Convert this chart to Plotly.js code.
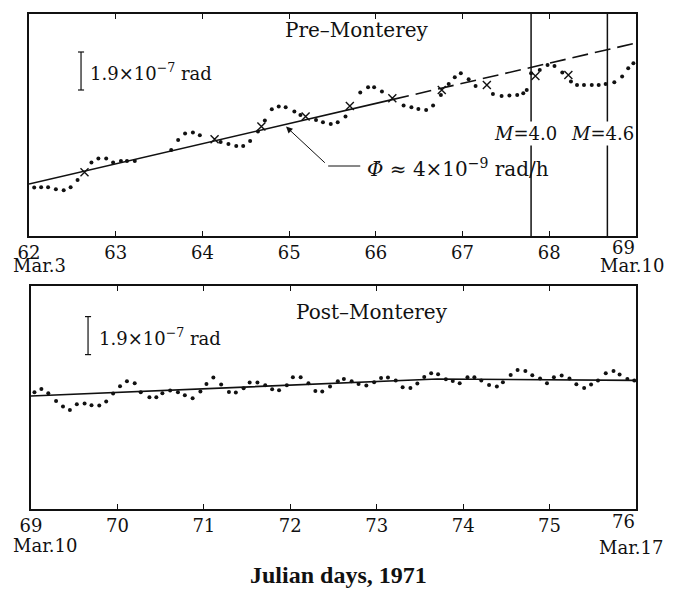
<!DOCTYPE html>
<html>
<head>
<meta charset="utf-8">
<script src="https://cdn.plot.ly/plotly-3.0.1.min.js"></script>
<style>html,body{margin:0;padding:0;background:#fff;}#chart{width:676px;height:591px;}</style>
</head>
<body>
<div id="chart"></div>
<script>
// ---- Pre-Monterey panel (Julian days 62-69), values in units of 1e-7 rad ----
const preDotDays = [62.06,62.14,62.22,62.31,62.40,62.48,62.56,62.72,62.80,62.89,62.97,63.06,63.13,63.22,
  63.64,63.72,63.80,63.89,63.97,64.21,64.30,64.39,64.47,64.55,64.64,64.72,64.80,64.88,64.96,65.06,65.13,
  65.31,65.39,65.48,65.56,65.65,65.82,65.91,65.98,66.07,66.32,66.41,66.49,66.58,66.66,66.75,66.84,66.91,
  66.98,67.07,67.15,67.35,67.45,67.54,67.63,67.70,67.74,67.79,67.89,67.98,68.06,68.15,68.25,68.32,68.40,
  68.49,68.57,68.65,68.75,68.84,68.91,68.97];
const preDotVals = [2.42,2.44,2.44,2.34,2.29,2.44,2.80,3.67,3.87,3.87,3.67,3.75,3.75,3.75,
  4.30,4.80,5.12,5.17,5.04,4.70,4.60,4.50,4.50,4.75,5.22,5.77,6.34,6.47,6.44,6.22,6.05,
  5.80,5.69,5.60,5.69,5.97,7.17,7.44,7.44,7.22,6.52,6.44,6.35,6.30,6.52,7.05,7.60,7.94,
  8.14,7.84,7.50,7.10,7.00,7.02,7.05,7.14,7.30,8.14,8.30,8.55,8.50,8.17,7.72,7.55,7.55,
  7.55,7.55,7.60,7.69,7.97,8.39,8.64];
const preCrossDays = [62.64,64.14,64.68,65.19,65.70,66.19,66.76,67.28,67.84,68.22];
const preCrossVals = [3.19,4.84,5.47,5.97,6.50,6.89,7.30,7.55,8.00,8.05];
const preFitDays = [62.0, 66.2];
const preFitVals = [2.60, 6.83];
const preExtDays = [66.2, 69.0];
const preExtVals = [6.83, 9.65];
const quakeDays = [67.79, 68.67];
const quakeLabels = ['<i>M</i>=4.0', '<i>M</i>=4.6'];

// ---- Post-Monterey panel (Julian days 69-76) ----
const postDotDays = [69.04,69.12,69.20,69.29,69.37,69.45,69.53,69.62,69.70,69.79,69.87,69.95,70.03,70.11,
  70.20,70.27,70.37,70.45,70.52,70.61,70.70,70.78,70.87,70.96,71.03,71.11,71.20,71.29,71.37,71.46,71.53,
  71.62,71.71,71.79,71.87,71.96,72.03,72.12,72.21,72.29,72.37,72.46,72.55,72.62,72.71,72.79,72.88,72.97,
  73.05,73.13,73.22,73.30,73.39,73.47,73.55,73.63,73.71,73.80,73.88,73.96,74.05,74.13,74.21,74.30,74.39,
  74.46,74.55,74.63,74.72,74.80,74.89,74.97,75.05,75.14,75.23,75.31,75.40,75.48,75.56,75.65,75.74,75.81,
  75.90,75.98];
const postDotVals = [5.84,6.00,5.79,5.40,5.12,4.95,5.24,5.27,5.19,5.17,5.37,5.77,6.14,6.39,
  6.29,5.84,5.59,5.59,5.79,5.92,5.84,5.69,5.54,5.87,6.25,6.57,6.22,5.85,5.82,6.04,6.32,
  6.32,6.19,5.99,5.94,6.19,6.59,6.59,6.29,5.90,5.87,6.12,6.39,6.50,6.39,6.25,6.17,6.34,
  6.55,6.57,6.42,6.09,6.05,6.27,6.60,6.79,6.74,6.49,6.40,6.29,6.59,6.59,6.42,6.20,6.12,
  6.34,6.70,6.95,6.90,6.69,6.52,6.29,6.59,6.67,6.52,6.24,6.05,6.22,6.42,6.79,6.90,6.72,
  6.50,6.42];
const postFitDays = [69.0, 73.7, 76.0];
const postFitVals = [5.65, 6.50, 6.43];

// ---- tick labels ----
const preTickVals = [62,63,64,65,66,67,68,69];
const preTickText = ['62','63','64','65','66','67','68',' '];
const postTickVals = [69,70,71,72,73,74,75,76];
const postTickText = ['69','70','71','72','73','74','75',' '];

const scaleBar = 1.9; // 1.9e-7 rad
const serif = 'DejaVu Serif';
const black = '#111';

const traces = [
  {x: preDotDays, y: preDotVals, xaxis:'x', yaxis:'y', mode:'markers', type:'scatter',
   marker:{size:4, color:black}},
  {x: preCrossDays, y: preCrossVals, xaxis:'x', yaxis:'y', mode:'markers', type:'scatter',
   marker:{size:8, symbol:'x-thin-open', color:black, line:{width:1.4, color:black}}},
  {x: preFitDays, y: preFitVals, xaxis:'x', yaxis:'y', mode:'lines', type:'scatter',
   line:{color:black, width:1.6}},
  {x: preExtDays, y: preExtVals, xaxis:'x', yaxis:'y', mode:'lines', type:'scatter',
   line:{color:black, width:1.6, dash:'16px,7px'}},
  {x: postDotDays, y: postDotVals, xaxis:'x2', yaxis:'y2', mode:'markers', type:'scatter',
   marker:{size:4, color:black}},
  {x: postFitDays, y: postFitVals, xaxis:'x2', yaxis:'y2', mode:'lines', type:'scatter',
   line:{color:black, width:1.6}}
];

function xAxis(dom, rng, tv, tt, anchor){
  return {domain:dom, range:rng, anchor:anchor, showline:true, linecolor:black, linewidth:1.6,
    mirror:'ticks', ticks:'inside', ticklen:5, tickwidth:1.2, tickcolor:black,
    tickvals:tv, ticktext:tt, tickfont:{family:serif, size:18, color:black},
    showgrid:false, zeroline:false, fixedrange:true};
}
function yAxis(dom, rng, anchor){
  return {domain:dom, range:rng, anchor:anchor, showline:true, linecolor:black, linewidth:1.6,
    mirror:true, ticks:'', showticklabels:false, showgrid:false, zeroline:false, fixedrange:true};
}

const shapes = [];
quakeDays.forEach(d => shapes.push({type:'line', xref:'x', yref:'y', x0:d, x1:d, y0:0, y1:11.1,
  line:{color:black, width:1.5}}));
// scale bars
function bar(xr, yr, xd, y0){
  const w = 0.035;
  shapes.push({type:'line', xref:xr, yref:yr, x0:xd, x1:xd, y0:y0, y1:y0+scaleBar, line:{color:black, width:1.2}});
  shapes.push({type:'line', xref:xr, yref:yr, x0:xd-w, x1:xd+w, y0:y0, y1:y0, line:{color:black, width:1.2}});
  shapes.push({type:'line', xref:xr, yref:yr, x0:xd-w, x1:xd+w, y0:y0+scaleBar, y1:y0+scaleBar, line:{color:black, width:1.2}});
}
bar('x','y',62.60,7.30);
bar('x2','y2',69.66,7.72);
// leader line of the rate label
shapes.push({type:'line', xref:'x', yref:'y', x0:65.45, x1:65.82, y0:3.5, y1:3.5, line:{color:black, width:1}});

const tf = {family:serif, size:18, color:black};
const tfBig = {family:serif, size:20, color:black};
const annotations = [
  {xref:'x', yref:'y', x:65.78, y:10.3, text:'Pre\u2013Monterey', showarrow:false, font:tfBig},
  {xref:'x2', yref:'y2', x:72.95, y:9.85, text:'Post\u2013Monterey', showarrow:false, font:tfBig},
  {xref:'x', yref:'y', x:62.68, y:8.2, xanchor:'left', text:'1.9\u00d710<sup>\u22127</sup> rad', showarrow:false, font:tf},
  {xref:'x2', yref:'y2', x:69.76, y:8.6, xanchor:'left', text:'1.9\u00d710<sup>\u22127</sup> rad', showarrow:false, font:tf},
  {xref:'x', yref:'y', x:65.88, y:3.4, xanchor:'left', text:'<i>\u03a6\u0307</i> \u2248 4\u00d710<sup>\u22129</sup> rad/h', showarrow:false, font:tfBig},
  {xref:'x', yref:'y', x:64.964, y:5.47, ax:65.452, ay:3.5, axref:'x', ayref:'y', text:' ', showarrow:true,
   arrowhead:2, arrowsize:1.3, arrowwidth:1, arrowcolor:black},
  {xref:'x', yref:'y', x:quakeDays[0], y:5.15, xshift:-6, text:quakeLabels[0], showarrow:false, font:tf, bgcolor:'#fff'},
  {xref:'x', yref:'y', x:quakeDays[1], y:5.15, xshift:-5, text:quakeLabels[1], showarrow:false, font:tf, bgcolor:'#fff'},
  // end-of-axis labels
  {xref:'x', yref:'paper', x:69, y:1-247/591, yanchor:'middle', xanchor:'right', xshift:1, text:'69', showarrow:false, font:tf},
  {xref:'x2', yref:'paper', x:76, y:1-521/591, yanchor:'middle', xanchor:'right', xshift:1, text:'76', showarrow:false, font:tf},
  {xref:'x', yref:'paper', x:62, y:1-266/591, yanchor:'middle', xanchor:'left', xshift:-18, text:'Mar.3', showarrow:false, font:tf},
  {xref:'x', yref:'paper', x:69, y:1-266/591, yanchor:'middle', xanchor:'center', xshift:-4, text:'Mar.10', showarrow:false, font:tf},
  {xref:'x2', yref:'paper', x:69, y:1-545/591, yanchor:'middle', xanchor:'left', xshift:-20, text:'Mar.10', showarrow:false, font:tf},
  {xref:'x2', yref:'paper', x:76, y:1-547/591, yanchor:'middle', xanchor:'center', xshift:-5, text:'Mar.17', showarrow:false, font:tf},
  {xref:'paper', yref:'paper', x:338/676, y:1-575/591, yanchor:'middle', xanchor:'center',
   text:'<b>Julian days, 1971</b>', showarrow:false, font:{family:'Liberation Serif', size:24, color:black}}
];

const layout = {
  width:676, height:591, margin:{l:0, r:0, t:0, b:0},
  paper_bgcolor:'#fff', plot_bgcolor:'#fff', showlegend:false,
  xaxis: xAxis([29/676, 636/676], [62,69], preTickVals, preTickText, 'y'),
  yaxis: yAxis([1-236/591, 1-14/591], [0,11.1], 'x'),
  xaxis2: xAxis([31/676, 636/676], [69,76], postTickVals, postTickText, 'y2'),
  yaxis2: yAxis([1-509/591, 1-286/591], [0,11.15], 'x2'),
  shapes: shapes, annotations: annotations,
  font:{family:serif, color:black}
};

Plotly.newPlot('chart', traces, layout, {displayModeBar:false, staticPlot:true});
</script>
</body>
</html>
